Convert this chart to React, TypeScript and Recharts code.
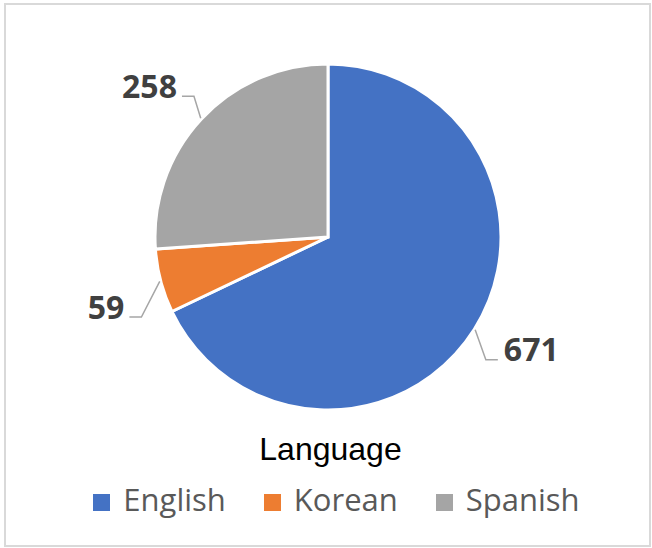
import { Cell, Legend, Pie, PieChart } from 'recharts'

const categories = ['English', 'Korean', 'Spanish']
const values = [671, 59, 258]
const colors = ['#4472C4', '#ED7D31', '#A5A5A5']
const title = 'Language'

const data = categories.map((name, i) => ({ name, value: values[i] }))

const RAD = Math.PI / 180

const renderLabel = (props: any) => {
  const { cx, cy, midAngle, outerRadius, value } = props
  const left = Math.cos(midAngle * RAD) < 0
  // excel "best fit" labels sit a little counter-clockwise of the slice middle
  const a = (midAngle + 3) * RAD
  const r = outerRadius + 60
  const lx = cx + r * Math.cos(a)
  const ly = cy - r * Math.sin(a) - 2
  const w = String(value).length * 0.572 * 32
  const lineY = ly + 11
  const near = left ? lx + w / 2 + 5 : lx - w / 2 - 6
  const elbow = left ? near + 12 : near - 12
  const ex = cx + (outerRadius + 1) * Math.cos(midAngle * RAD)
  const ey = cy - (outerRadius + 1) * Math.sin(midAngle * RAD)
  return (
    <g>
      <path
        d={`M${near},${lineY}L${elbow},${lineY}L${ex},${ey}`}
        stroke='#a6a6a6'
        strokeWidth={1.5}
        fill='none'
      />
      <text
        x={lx}
        y={ly}
        textAnchor='middle'
        dominantBaseline='central'
        fill='#404040'
        fontFamily='"Open Sans", sans-serif'
        fontWeight={700}
        fontSize={32}
      >
        {value}
      </text>
    </g>
  )
}

const renderLegend = () => (
  <div style={{ width: 652, boxSizing: 'border-box' }}>
    <div
      style={{
        textAlign: 'center',
        paddingLeft: 9,
        fontFamily: '"Liberation Sans", Arial, sans-serif',
        fontSize: 32,
        lineHeight: '36px',
        height: 36,
        color: '#000',
      }}
    >
      {title}
    </div>
    <div
      style={{
        display: 'flex',
        justifyContent: 'center',
        paddingLeft: 21,
        marginTop: 14,
        fontFamily: '"Open Sans", sans-serif',
        fontSize: 31,
        lineHeight: '36px',
        color: '#595959',
      }}
    >
      {categories.map((c, i) => (
        <div key={c} style={{ display: 'flex', marginLeft: i === 0 ? 0 : 38 }}>
          <div
            style={{
              width: 17,
              height: 17,
              marginTop: 13,
              marginRight: 13,
              background: colors[i],
            }}
          />
          <span>{c}</span>
        </div>
      ))}
    </div>
  </div>
)

export default function App() {
  return (
    <div
      style={{
        position: 'absolute',
        left: 0,
        top: 0,
        width: 652,
        height: 548,
        background: '#fff',
      }}
    >
      <div
        style={{
          position: 'absolute',
          left: 4,
          top: 3,
          width: 647,
          height: 544,
          border: '2px solid #d9d9d9',
          boxSizing: 'border-box',
        }}
      />
      <PieChart width={652} height={548} margin={{ top: 0, right: 0, bottom: 0, left: 0 }}>
        <Pie
          data={data}
          dataKey='value'
          nameKey='name'
          cx={328}
          cy={237}
          outerRadius={173}
          startAngle={90}
          endAngle={-270}
          stroke='#fff'
          strokeWidth={3}
          label={renderLabel}
          labelLine={false}
          isAnimationActive={false}
        >
          {data.map((d, i) => (
            <Cell key={d.name} fill={colors[i]} />
          ))}
        </Pie>
        <Legend
          content={renderLegend}
          wrapperStyle={{ position: 'absolute', top: 431, left: 0, width: 652 }}
        />
      </PieChart>
    </div>
  )
}
